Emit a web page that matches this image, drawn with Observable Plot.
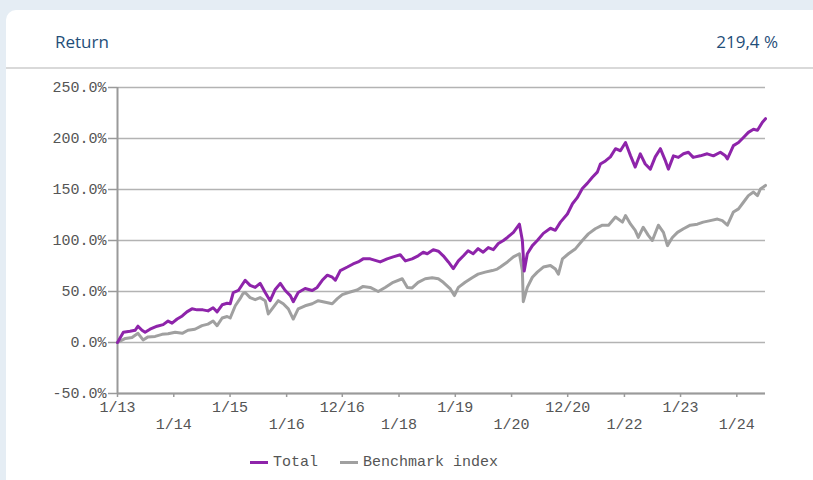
<!DOCTYPE html>
<html><head><meta charset="utf-8">
<script src="https://cdn.jsdelivr.net/npm/d3@7"></script>
<script src="https://cdn.jsdelivr.net/npm/@observablehq/plot@0.6"></script>
<style>
html,body{margin:0;padding:0;width:813px;height:480px;overflow:hidden;background:#e5edf4;}
#card{position:absolute;left:6px;top:10px;width:840px;height:500px;background:#fff;border-radius:10px 0 0 0;}
.hdr{position:absolute;top:30px;line-height:24px;font-family:"Open Sans",sans-serif;font-size:17px;color:#1f4e79;}
#divider{position:absolute;left:6px;top:67px;width:807px;height:2px;background:#d9d9d9;}
#chart{position:absolute;left:0;top:70px;}
#legend{position:absolute;left:250px;top:454px;font-family:"Liberation Mono",monospace;font-size:15px;color:#555;display:flex;align-items:center;}
.sw{display:inline-block;width:18px;height:3px;margin-right:5px;}
</style></head>
<body>
<div id="card"></div>
<div class="hdr" style="left:55px">Return</div>
<div class="hdr" style="right:35px">219,4 %</div>
<div id="divider"></div>
<div id="chart"></div>
<div id="legend"><span class="sw" style="background:#8e24aa"></span><span>Total</span><span class="sw" style="background:#a0a0a0;margin-left:22px"></span><span>Benchmark index</span></div>
<script>
const seriesNames = ["Total", "Benchmark index"];
const seriesColors = ["#8e24aa", "#a0a0a0"];
const yTicks = [-50, 0, 50, 100, 150, 200, 250];
const tickDates = ["2013-01-02","2014-01-02","2015-01-02","2016-01-04","2016-12-30","2018-01-02","2019-01-02","2020-01-02","2020-12-31","2022-01-03","2023-01-02","2024-01-02"];
const tickLabels = ["1/13","1/14","1/15","1/16","12/16","1/18","1/19","1/20","12/20","1/22","1/23","1/24"];

const total = [
["2013-01-02",0],["2013-02-09",10],["2013-03-24",11],["2013-04-26",12],["2013-05-15",16],["2013-06-10",12],
["2013-06-30",10],["2013-08-01",13],["2013-09-16",16],["2013-10-25",17.5],["2013-11-26",21],["2013-12-22",19],
["2014-01-24",23],["2014-02-26",26],["2014-03-28",30],["2014-04-30",33],["2014-06-02",32],["2014-07-10",32],
["2014-08-12",31],["2014-09-14",34],["2014-10-10",30],["2014-11-12",37],["2014-12-14",38.5],["2015-01-03",38],
["2015-01-23",49],["2015-02-25",51],["2015-04-10",61],["2015-05-12",56],["2015-06-14",54],["2015-07-16",58],
["2015-08-18",49],["2015-09-19",41],["2015-10-22",52],["2015-11-24",58],["2015-12-26",51],["2016-01-28",46],
["2016-02-16",40],["2016-03-19",49],["2016-05-03",53],["2016-06-18",51],["2016-07-20",54],["2016-08-22",61],
["2016-09-24",66],["2016-10-26",64],["2016-11-15",61],["2016-12-17",70.5],["2017-02-01",74],["2017-03-10",77],
["2017-04-12",79],["2017-05-14",82],["2017-06-29",82],["2017-09-02",79],["2017-10-17",82],["2017-11-25",84],
["2018-01-10",86],["2018-02-12",80],["2018-03-28",82],["2018-05-06",85],["2018-06-08",88.5],["2018-07-04",87],
["2018-08-12",91],["2018-09-14",89.5],["2018-10-16",85],["2018-11-18",79],["2018-12-20",72.5],["2019-01-22",80],
["2019-02-24",85],["2019-03-26",90],["2019-04-28",87],["2019-05-30",92],["2019-07-02",88.5],["2019-08-04",93],
["2019-09-06",91],["2019-10-08",97],["2019-11-10",100],["2019-12-06",103],["2020-01-14",108],["2020-02-22",116],
["2020-03-12",100],["2020-03-24",70],["2020-04-13",87],["2020-05-16",95],["2020-06-17",100],["2020-07-26",107],
["2020-09-10",112],["2020-10-12",110],["2020-11-14",118],["2020-12-29",126],["2021-01-31",136],["2021-03-03",142],
["2021-04-05",151],["2021-05-07",156],["2021-06-09",162],["2021-07-11",167],["2021-07-31",175],["2021-09-02",178],
["2021-10-04",182],["2021-11-06",190],["2021-12-08",188],["2022-01-10",196],["2022-02-12",183],["2022-03-14",172],
["2022-04-16",185],["2022-05-18",175],["2022-06-20",170],["2022-07-22",182],["2022-08-24",190],["2022-09-26",178],
["2022-10-15",170],["2022-11-17",183],["2022-12-19",181.5],["2023-01-21",185],["2023-02-22",186.5],["2023-03-25",181.5],
["2023-05-10",183],["2023-06-24",185],["2023-08-03",183],["2023-09-17",186.5],["2023-10-20",183],["2023-11-02",180],
["2023-12-11",193],["2024-01-13",196],["2024-02-14",201],["2024-03-17",206],["2024-04-19",209],["2024-05-15",208],
["2024-06-16",216],["2024-07-06",219.4]
];

const benchmark = [
["2013-01-02",0],["2013-02-22",4],["2013-04-06",5],["2013-05-15",9],["2013-06-17",2.5],["2013-07-19",5.5],
["2013-09-03",6],["2013-10-18",8],["2013-11-26",8.5],["2014-01-11",10],["2014-02-26",9],["2014-04-04",12],
["2014-05-19",13],["2014-07-04",16.5],["2014-08-12",18],["2014-09-14",21],["2014-10-10",16.5],["2014-11-12",24],
["2014-12-14",25.5],["2015-01-03",24],["2015-02-05",36],["2015-03-08",43],["2015-03-27",48],["2015-04-10",49],
["2015-05-12",44],["2015-06-14",42],["2015-07-16",44],["2015-08-18",41],["2015-09-07",28],["2015-10-09",34.5],
["2015-11-11",41],["2015-12-13",38],["2016-01-15",33],["2016-02-16",23],["2016-03-19",33],["2016-05-03",36],
["2016-06-18",38],["2016-07-27",41],["2016-09-11",39.5],["2016-10-26",38],["2016-11-28",43],["2016-12-30",47],
["2017-02-08",49],["2017-04-05",51.5],["2017-05-14",55],["2017-06-29",54],["2017-08-20",50],["2017-10-04",54],
["2017-11-25",59],["2018-01-23",62.5],["2018-02-25",54],["2018-03-28",53.5],["2018-05-06",59],["2018-06-21",62.5],
["2018-08-05",63.5],["2018-09-14",62.5],["2018-10-16",59],["2018-12-01",52.5],["2018-12-27",46],["2019-01-22",54],
["2019-03-07",59],["2019-04-21",63.5],["2019-05-30",67],["2019-07-15",69],["2019-08-30",70.5],["2019-10-01",72],
["2019-10-21",74],["2019-12-06",79],["2020-01-14",84],["2020-02-22",87],["2020-03-12",70.5],["2020-03-18",40],
["2020-04-13",54],["2020-05-16",64],["2020-06-17",69],["2020-07-26",74],["2020-09-10",75.5],["2020-10-12",72],
["2020-11-01",67],["2020-11-27",82],["2021-01-05",87],["2021-02-20",92],["2021-04-05",100],["2021-05-14",106.5],
["2021-06-28",111.5],["2021-08-13",115],["2021-09-22",115],["2021-11-06",123],["2021-12-21",118],["2022-01-10",124.5],
["2022-02-12",116],["2022-03-14",110],["2022-04-03",103],["2022-05-05",113],["2022-06-07",105],["2022-07-03",100],
["2022-08-11",115],["2022-09-13",108],["2022-10-09",95],["2022-11-10",103],["2022-12-13",108],["2023-01-21",111.5],
["2023-03-06",115],["2023-04-21",116],["2023-05-29",118],["2023-07-14",119.5],["2023-08-29",121],["2023-09-30",119.5],
["2023-11-02",115],["2023-12-11",128],["2024-01-13",131],["2024-02-14",137.5],["2024-03-17",144],["2024-04-19",147.5],
["2024-05-15",144],["2024-06-03",150.5],["2024-07-06",154]
];

const toRows = (arr, name) => arr.map(([d, v]) => ({date: new Date(d + "T00:00:00Z"), value: v, series: name}));
const totRows = toRows(total, seriesNames[0]);
const benRows = toRows(benchmark, seriesNames[1]);
const ticks = tickDates.map(d => new Date(d + "T00:00:00Z"));
const labelOf = new Map(ticks.map((t, i) => [+t, tickLabels[i]]));
const evenTicks = ticks.filter((t, i) => i % 2 === 0);
const oddTicks = ticks.filter((t, i) => i % 2 === 1);
const xDomain = [totRows[0].date, totRows[totRows.length - 1].date];

const chart = Plot.plot({
  width: 813,
  height: 370,
  marginLeft: 117,
  marginRight: 48,
  marginTop: 17,
  marginBottom: 47,
  x: {type: "utc", domain: xDomain, label: null},
  y: {domain: [-50, 250], label: null},
  style: {fontFamily: "'Liberation Mono', monospace", fontSize: "15px", color: "#555", background: "transparent", overflow: "visible"},
  marks: [
    Plot.gridY(yTicks, {stroke: "#b3b3b3", strokeOpacity: 1, strokeWidth: 1.5}),
    Plot.axisY(yTicks, {label: null, tickFormat: d => d.toFixed(1) + "%", tickSize: 9, tickPadding: 2, stroke: "#9a9a9a", fill: "#555", strokeWidth: 1.5}),
    Plot.axisX(evenTicks, {label: null, tickFormat: d => labelOf.get(+d), tickSize: 4, tickPadding: 4, stroke: "#9a9a9a", fill: "#555", strokeWidth: 1.5}),
    Plot.axisX(oddTicks, {label: null, tickFormat: d => labelOf.get(+d), tickSize: 4, tickPadding: 21, stroke: "#9a9a9a", fill: "#555", strokeWidth: 1.5}),
    Plot.ruleX([xDomain[0]], {stroke: "#9a9a9a", strokeWidth: 2}),
    Plot.ruleY([-50], {stroke: "#9a9a9a", strokeWidth: 2}),
    Plot.line(benRows, {x: "date", y: "value", stroke: seriesColors[1], strokeWidth: 3}),
    Plot.line(totRows, {x: "date", y: "value", stroke: seriesColors[0], strokeWidth: 3})
  ]
});
document.getElementById("chart").appendChild(chart);
</script>
</body></html>
